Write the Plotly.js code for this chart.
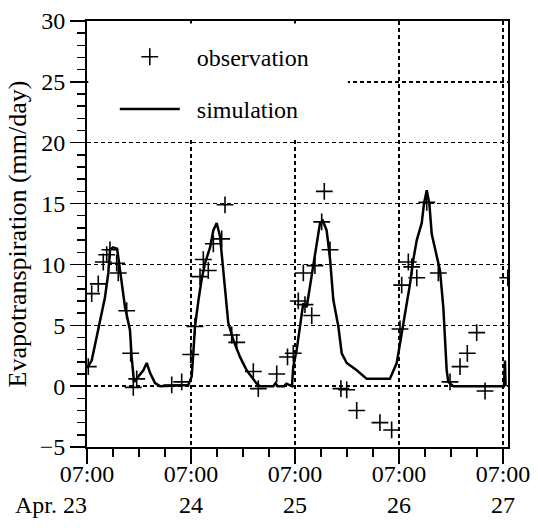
<!DOCTYPE html>
<html>
<head>
<meta charset="utf-8">
<script src="https://cdn.plot.ly/plotly-3.0.1.min.js"></script>
<style>html,body{margin:0;padding:0;background:#fff;}#chart{width:538px;height:530px;}</style>
</head>
<body>
<div id="chart"></div>
<script>
// hours since Apr. 23 07:00
const simHours = [0, 1.08, 2.24, 3.0, 4.15, 4.92, 5.31, 6.0, 6.92, 7.22, 8.0, 8.77, 9.92, 10.3, 10.85, 11.84, 13.0, 13.78, 14.54, 15.7, 16.85, 23.38, 24.16, 24.53, 24.92, 25.7, 26.47, 27.23, 28.4, 29.15, 29.93, 30.7, 31.32, 31.85, 32.6, 33.76, 35.3, 36.85, 38.38, 39.16, 39.9, 43.0, 43.5, 44.0, 45.5, 46.0, 47.3, 47.6, 48.4, 49.15, 49.9, 50.7, 51.46, 52.2, 53.0, 53.77, 54.4, 55.3, 56.1, 56.84, 58.0, 58.78, 59.93, 62.24, 64.55, 69.9, 71.47, 72.23, 73.0, 73.78, 74.54, 75.3, 76.1, 77.24, 77.77, 78.4, 79.0, 79.55, 80.7, 81.46, 82.22, 82.6, 83.0, 83.38, 84.5, 96.2, 96.45, 96.6];
const simET = [1.5, 2.1, 4.05, 5.4, 7.3, 9.3, 11.2, 11.4, 11.3, 10.6, 8.7, 6.5, 4.6, 2.4, 0.35, 0.76, 1.3, 1.9, 1.1, 0.25, 0, 0.1, 0.8, 2.7, 4.9, 7.0, 8.8, 10.1, 11.4, 12.8, 13.4, 12.3, 10.1, 7.9, 5.2, 3.8, 2.4, 1.3, 0.5, 0.2, 0, 0, 0.25, 0, 0, 0.2, 0, 1.6, 3.0, 4.9, 6.8, 6.5, 8.2, 9.8, 11.7, 13.4, 13.6, 12.8, 10.4, 7.1, 4.9, 2.7, 1.9, 1.3, 0.6, 0.6, 1.9, 3.5, 4.9, 6.8, 8.4, 10.4, 12.0, 13.4, 15.0, 16.1, 15.0, 12.5, 10.6, 9.5, 6.5, 3.8, 1.3, 0.35, 0, 0, 2.1, 0];

const obsHours = [0.3, 1.08, 2.6, 3.76, 4.55, 5.3, 6.85, 7.22, 9.16, 10.08, 10.68, 11.47, 19.55, 21.85, 23.93, 24.92, 26.08, 26.84, 27.99, 29.15, 31.08, 31.85, 33.39, 34.55, 38.38, 39.53, 43.78, 46.27, 47.6, 48.76, 49.92, 50.3, 51.86, 52.6, 54.16, 54.76, 56.08, 58.6, 59.93, 62.24, 67.6, 70.3, 72.23, 72.62, 74.15, 74.93, 76.1, 78.4, 81.07, 83.77, 86.08, 87.76, 89.93, 91.85, 97.1];
const obsET = [1.6, 7.6, 8.4, 10.2, 10.8, 11.2, 10.1, 9.3, 6.2, 2.7, -0.1, 0.6, 0.1, 0.35, 2.6, 4.9, 9.0, 10.4, 9.5, 11.7, 12.1, 14.9, 4.2, 3.6, 1.2, -0.2, 1.0, 2.4, 2.7, 7.0, 9.3, 6.7, 5.8, 9.9, 13.5, 16.0, 11.2, -0.2, -0.3, -2.0, -3.0, -3.6, 4.7, 8.3, 10.2, 9.8, 8.9, 15.1, 9.3, 0.35, 1.6, 2.7, 4.4, -0.4, 8.9];

const tickHours = [0, 24, 48, 72, 96];
const tickTimes = ['07:00', '07:00', '07:00', '07:00', '07:00'];
const tickDays = ['Apr. 23', '24', '25', '26', '27'];
const yTicks = [-5, 0, 5, 10, 15, 20, 25, 30];

const FONT = "'Liberation Serif', 'DejaVu Serif', serif";
const NB = '\u00a0';

// first date label is pushed left so its right edge sits at the tick, as in the original
const tickText = tickTimes.map((t, i) =>
  t + '<br>' + tickDays[i] + (i === 0 ? NB.repeat(12) : ''));

const traces = [
  {
    x: obsHours, y: obsET, type: 'scatter', mode: 'markers', name: NB + NB + 'observation',
    legendgroup: 'a',
    marker: {symbol: 'cross-thin', size: 12, color: 'black', line: {color: 'black', width: 1.6}}
  },
  {
    x: simHours, y: simET, type: 'scatter', mode: 'lines', name: NB + NB + 'simulation',
    legendgroup: 'b',
    line: {color: 'black', width: 2.5}
  }
];

const layout = {
  width: 538, height: 530,
  margin: {l: 87, r: 30, t: 21, b: 83},
  paper_bgcolor: 'white', plot_bgcolor: 'white',
  showlegend: true,
  legend: {
    x: 0.066, y: 0.968, xanchor: 'left', yanchor: 'top',
    bgcolor: 'rgba(0,0,0,0)', borderwidth: 0,
    font: {family: FONT, size: 24, color: 'black'},
    itemwidth: 60, traceorder: 'grouped', tracegroupgap: 18
  },
  xaxis: {
    range: [0, 97.15], tickmode: 'array', tickvals: tickHours, ticktext: tickText,
    ticks: 'outside', ticklen: 15, tickwidth: 1.5, tickcolor: 'black',
    ticklabelstandoff: -11,
    showline: true, linewidth: 2, linecolor: 'black', mirror: true,
    showgrid: true, gridcolor: 'black', gridwidth: 1.5, griddash: '4px,3px',
    zeroline: false,
    tickfont: {family: FONT, size: 24, color: 'black'},
    minor: {tickmode: 'linear', tick0: 0, dtick: 6, ticks: 'outside', ticklen: 8, tickwidth: 1.5, tickcolor: 'black', showgrid: false}
  },
  yaxis: {
    range: [-5, 30], tickmode: 'array', tickvals: yTicks,
    ticks: 'outside', ticklen: 15, tickwidth: 1.5, tickcolor: 'black',
    showline: true, linewidth: 2, linecolor: 'black', mirror: true,
    showgrid: true, gridcolor: 'black', gridwidth: 1.5, griddash: '4px,3px',
    zeroline: false,
    tickfont: {family: FONT, size: 24, color: 'black'},
    title: {text: 'Evapotranspiration (mm/day)', font: {family: FONT, size: 26, color: 'black'}, standoff: 6},
    minor: {tickmode: 'linear', tick0: 0, dtick: 1, ticks: 'outside', ticklen: 8, tickwidth: 1.5, tickcolor: 'black', showgrid: false}
  },
  shapes: [{
    type: 'rect', xref: 'x', yref: 'y', x0: 0.3, x1: 60.2, y0: 20.25, y1: 29.8,
    fillcolor: 'white', line: {width: 0}, layer: 'between'
  }]
};

Plotly.newPlot('chart', traces, layout, {displayModeBar: false, staticPlot: true});
</script>
</body>
</html>
